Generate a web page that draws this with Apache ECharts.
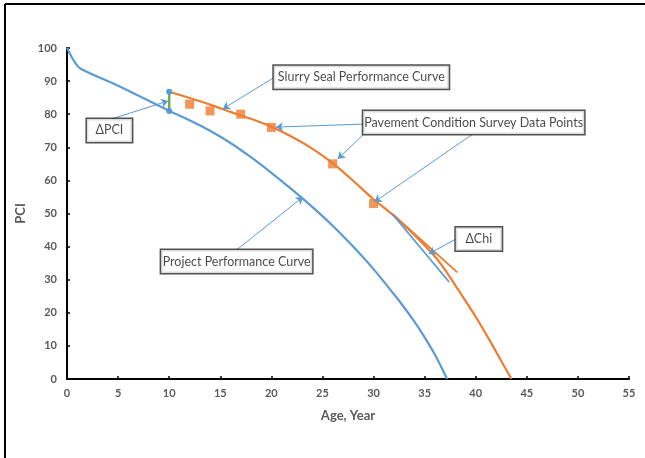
<!DOCTYPE html>
<html><head><meta charset="utf-8">
<script src="https://cdn.jsdelivr.net/npm/echarts@6/dist/echarts.min.js"></script>
<style>html,body{margin:0;padding:0;background:#fff}#c{width:645px;height:458px}</style>
</head><body><div id="c"></div>
<script>
// ---- data ----
const projectAge = [0, 0.3, 0.7, 1.3, 5, 10, 12, 14, 16, 18, 20, 22, 24, 26, 28, 30, 32, 33, 34, 35, 36, 37.2];
const projectPCI = [100, 98.2, 96.0, 93.8, 88.6, 81.0, 78.2, 75.0, 71.3, 67.0, 62.3, 57.3, 52.0, 46.3, 40.0, 33.2, 25.6, 21.6, 17.3, 12.6, 7.4, 0];
const slurryAge = [10, 12, 14, 16, 18, 20, 22, 24, 26, 28, 30, 32, 34, 36, 37, 38, 39, 40, 41, 42, 43, 43.5];
const slurryPCI = [86.8, 84.9, 82.9, 80.7, 78.6, 76.2, 73.2, 69.6, 65.2, 59.9, 54.3, 49.3, 43.5, 37.0, 33.0, 28.3, 23.6, 18.8, 13.6, 8.2, 2.7, 0];
const surveyAge = [12, 14, 17, 20, 26, 30];
const surveyPCI = [83, 81, 80, 76, 65, 53];
const deltaPciAge = [10, 10];
const deltaPciVal = [81.0, 86.8];
const chiSlurryAge = [31.8, 38.2];
const chiSlurryPCI = [50.0, 32.2];
const chiProjectAge = [31.8, 37.4];
const chiProjectPCI = [50.0, 29.3];
const xMin = 0, xMax = 55, xStep = 5;
const yMin = 0, yMax = 100, yStep = 10;
const xName = 'Age, Year';
const yName = 'PCI';
// annotations (text, anchor in data units)
const noteText = ['Slurry Seal Performance Curve', 'Pavement Condition Survey Data Points', '\u0394PCI', 'Project Performance Curve', '\u0394Chi'];
const noteAge = [28.8, 39.8, 4.15, 16.6, 40.3];
const notePCI = [91.2, 77.5, 75.1, 35.5, 42.3];
const arrowFromAge = [20.16, 28.96, 28.96, 39.7, 4.3, 16.6, 38.06];
const arrowFromPCI = [90.9, 77.0, 73.7, 74.0, 78.5, 39.0, 42.3];
const arrowToAge = [15.26, 20.45, 26.5, 30.1, 9.9, 23.1, 35.4];
const arrowToPCI = [81.6, 76.1, 66.5, 53.5, 84.0, 55.0, 37.8];

const zip = (a, b) => a.map((v, i) => [v, b[i]]);
const BLUE = '#5B9BD5', ORANGE = '#ED7D31', GREEN = '#70AD47';
const boxW = [175, 221, 45, 151, 46];

const chart = echarts.init(document.getElementById('c'), null, {renderer: 'canvas'});
chart.setOption({
  animation: false,
  backgroundColor: '#fff',
  textStyle: {fontFamily: 'Lato'},
  graphic: [
    {type: 'line', shape: {x1: 5, y1: 4, x2: 645, y2: 4}, style: {stroke: '#000', lineWidth: 2}},
    {type: 'line', shape: {x1: 5, y1: 4, x2: 5, y2: 458}, style: {stroke: '#000', lineWidth: 2}}
  ],
  grid: {left: 67, right: 16, top: 48, bottom: 79},
  xAxis: {
    type: 'value', min: xMin, max: xMax, interval: xStep,
    name: xName, nameLocation: 'middle', nameGap: 30,
    nameTextStyle: {fontFamily: 'Lato', fontSize: 13, fontWeight: 'bold', color: '#595959'},
    axisLine: {show: true, lineStyle: {color: '#000', width: 2}},
    axisTick: {show: true, inside: true, length: 3, lineStyle: {color: '#000', width: 1.5}},
    axisLabel: {fontFamily: 'Lato', fontSize: 11, fontWeight: 'bold', color: '#595959', margin: 9},
    splitLine: {show: false}
  },
  yAxis: {
    type: 'value', min: yMin, max: yMax, interval: yStep,
    name: yName, nameLocation: 'middle', nameGap: 37, nameRotate: 90,
    nameTextStyle: {fontFamily: 'Lato', fontSize: 13, fontWeight: 'bold', color: '#595959'},
    axisLine: {show: true, lineStyle: {color: '#000', width: 2}},
    axisTick: {show: true, inside: true, length: 3, lineStyle: {color: '#000', width: 1.5}},
    axisLabel: {fontFamily: 'Lato', fontSize: 11, fontWeight: 'bold', color: '#595959', margin: 10},
    splitLine: {show: false}
  },
  series: [
    {type: 'line', name: 'Project Performance Curve', data: zip(projectAge, projectPCI), smooth: 0.3,
      showSymbol: false, lineStyle: {color: BLUE, width: 2.2}, z: 3},
    {type: 'line', name: 'Slurry Seal Performance Curve', data: zip(slurryAge, slurryPCI), smooth: 0.3,
      showSymbol: false, lineStyle: {color: ORANGE, width: 2.2}, z: 3},
    {type: 'line', name: 'chiSlurry', data: zip(chiSlurryAge, chiSlurryPCI), showSymbol: false,
      lineStyle: {color: ORANGE, width: 1.8}, z: 3},
    {type: 'line', name: 'chiProject', data: zip(chiProjectAge, chiProjectPCI), showSymbol: false,
      lineStyle: {color: BLUE, width: 1.8}, z: 3},
    {type: 'line', name: 'deltaPCI', data: zip(deltaPciAge, deltaPciVal), symbol: 'circle', symbolSize: 6,
      itemStyle: {color: BLUE}, lineStyle: {color: GREEN, width: 2.5}, z: 4},
    {type: 'scatter', name: 'Survey', data: zip(surveyAge, surveyPCI), symbol: 'rect', symbolSize: 9,
      itemStyle: {color: ORANGE}, z: 5},
    {type: 'lines', coordinateSystem: 'cartesian2d', name: 'arrows', silent: true, z: 6,
      symbol: ['none', 'arrow'], symbolSize: 7,
      lineStyle: {color: BLUE, width: 1, opacity: 1},
      data: arrowFromAge.map((a, i) => ({coords: [[a, arrowFromPCI[i]], [arrowToAge[i], arrowToPCI[i]]]}))},
    {type: 'scatter', name: 'notes', silent: true, symbolSize: 0, z: 10,
      data: noteText.map((t, i) => ({value: [noteAge[i], notePCI[i]], name: t,
        label: {show: true, position: 'inside', formatter: t, width: boxW[i], height: 23, lineHeight: 23,
          align: 'center', verticalAlign: 'middle',
          fontFamily: 'Lato', fontSize: 12.5, color: '#1a1a1a',
          backgroundColor: '#fff', borderColor: '#262626', borderWidth: 1.5}}))}
  ]
});
</script></body></html>
